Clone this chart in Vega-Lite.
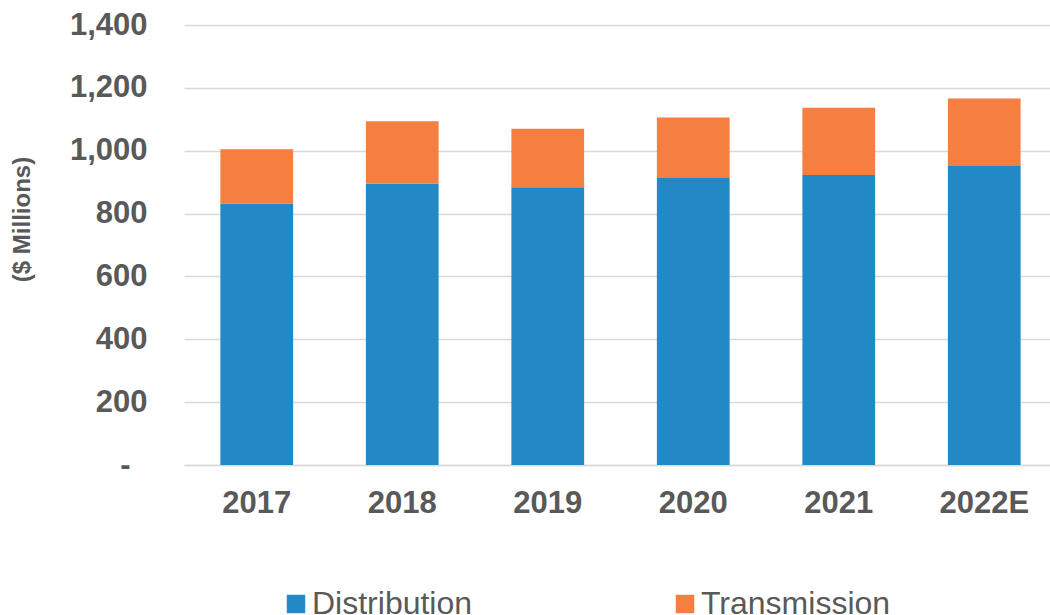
{
  "$schema": "https://vega.github.io/schema/vega-lite/v6.json",
  "autosize": {"type": "none"},
  "padding": {"left": 184, "top": 25, "right": 0, "bottom": 150},
  "width": 873,
  "height": 440,
  "background": "white",
  "config": {
    "font": "Liberation Sans",
    "view": {"stroke": null}
  },
  "data": {
    "values": [
      {"year": "2017", "type": "Distribution", "value": 831},
      {"year": "2017", "type": "Transmission", "value": 174},
      {"year": "2018", "type": "Distribution", "value": 895},
      {"year": "2018", "type": "Transmission", "value": 199},
      {"year": "2019", "type": "Distribution", "value": 884},
      {"year": "2019", "type": "Transmission", "value": 186},
      {"year": "2020", "type": "Distribution", "value": 913},
      {"year": "2020", "type": "Transmission", "value": 193},
      {"year": "2021", "type": "Distribution", "value": 923},
      {"year": "2021", "type": "Transmission", "value": 214},
      {"year": "2022E", "type": "Distribution", "value": 951},
      {"year": "2022E", "type": "Transmission", "value": 215}
    ]
  },
  "mark": {"type": "bar"},
  "encoding": {
    "x": {
      "field": "year",
      "type": "nominal",
      "sort": null,
      "scale": {"paddingInner": 0.5, "paddingOuter": 0.25},
      "axis": {
        "title": null,
        "labelAngle": 0,
        "labelFont": "Liberation Sans",
        "labelFontSize": 31,
        "labelFontWeight": "bold",
        "labelColor": "#595959",
        "labelPadding": 23,
        "ticks": false,
        "domain": true,
        "domainColor": "#d9d9d9",
        "domainWidth": 1.5,
        "grid": false
      }
    },
    "y": {
      "field": "value",
      "type": "quantitative",
      "stack": "zero",
      "scale": {"domain": [0, 1400], "nice": false},
      "axis": {
        "title": "($ Millions)",
        "titleFont": "Liberation Sans",
        "titleFontSize": 24,
        "titleFontWeight": "bold",
        "titleColor": "#595959",
        "titleX": -162,
        "titleY": 194,
        "titleAngle": -90,
        "titleAlign": "center",
        "titleBaseline": "middle",
        "values": [0, 200, 400, 600, 800, 1000, 1200, 1400],
        "labelExpr": "datum.value == 0 ? '-' : format(datum.value, ',')",
        "labelFont": "Liberation Sans",
        "labelFontSize": 31,
        "labelFontWeight": "bold",
        "labelColor": "#595959",
        "labelPadding": {"condition": {"test": "datum.value == 0", "value": 54}, "value": 37},
        "ticks": false,
        "domain": false,
        "grid": true,
        "gridColor": "#d9d9d9",
        "gridWidth": 1.5
      }
    },
    "color": {
      "field": "type",
      "type": "nominal",
      "scale": {"domain": ["Distribution", "Transmission"], "range": ["#2288C6", "#F47F40"]},
      "legend": {
        "title": null,
        "orient": "none",
        "direction": "horizontal",
        "legendX": 96,
        "legendY": 563,
        "padding": 0,
        "symbolType": "square",
        "symbolSize": 340,
        "symbolStrokeWidth": 0,
        "labelFont": "Liberation Sans",
        "labelFontSize": 32,
        "labelColor": "#595959",
        "labelOffset": 0,
        "labelLimit": 400,
        "columnPadding": 196
      }
    },
    "order": {"field": "type", "sort": "ascending"}
  }
}
